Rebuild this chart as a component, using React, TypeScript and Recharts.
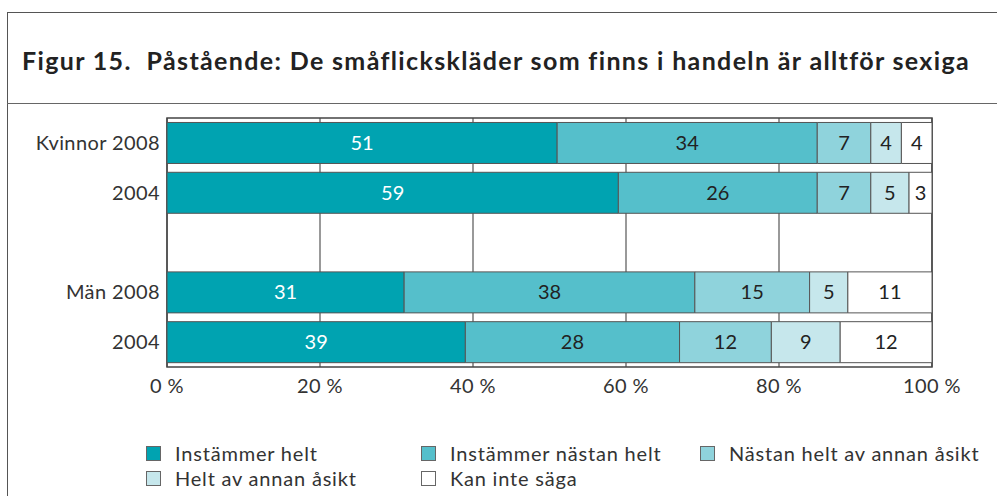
import React from 'react';
import { BarChart, Bar, XAxis, YAxis, CartesianGrid, LabelList, ReferenceArea } from 'recharts';

// rows (the empty one is the spacer between women and men)
const categories = ['Kvinnor 2008', '2004', '', 'Män 2008', '2004'];

const instammerHelt = [51, 59, null, 31, 39];
const instammerNastan = [34, 26, null, 38, 28];
const nastanAnnan = [7, 7, null, 15, 12];
const heltAnnan = [4, 5, null, 5, 9];
const kanInte = [4, 3, null, 11, 12];

const seriesNames = [
    'Instämmer helt',
    'Instämmer nästan helt',
    'Nästan helt av annan åsikt',
    'Helt av annan åsikt',
    'Kan inte säga',
];
const seriesColors = ['#00a3b1', '#55bfcb', '#8fd3dc', '#c6e7ec', '#ffffff'];
const labelColors = ['#ffffff', '#222222', '#222222', '#222222', '#222222'];

const xTicks = [0, 20, 40, 60, 80, 100];

const seriesValues = [instammerHelt, instammerNastan, nastanAnnan, heltAnnan, kanInte];

const data = categories.map((c, i) => {
    const row: any = { key: 'r' + i, label: c };
    seriesValues.forEach((vals, s) => {
        row['s' + s] = vals[i];
    });
    return row;
});

const legendCols = [146, 421, 700];
const legendRows = [453, 478];

const tickStyle = { fill: '#333', fontSize: 20, letterSpacing: 0.4 };

export default function App() {
    return (
        <div style={{ position: 'absolute', left: 0, top: 0, width: 997, height: 496, overflow: 'hidden', background: '#fff', fontFamily: 'Lato, "Open Sans", sans-serif' }}>
            <div style={{ position: 'absolute', left: 7, top: 12, width: 1100, height: 700, border: '1.5px solid #555' }} />
            <div style={{ position: 'absolute', left: 7, top: 103, width: 1100, borderTop: '1.5px solid #666' }} />
            <div style={{ position: 'absolute', left: 22, top: 14, height: 91, display: 'flex', alignItems: 'center', fontSize: 25, fontWeight: 700, letterSpacing: 1.35, color: '#222', whiteSpace: 'nowrap' }}>
                Figur 15.&nbsp; Påstående: De småflickskläder som finns i handeln är alltför sexiga
            </div>

            <div style={{ position: 'absolute', left: 0, top: 103 }}>
                <BarChart
                    width={997}
                    height={310}
                    data={data}
                    layout="vertical"
                    margin={{ top: 15, right: 65, bottom: 0, left: 0 }}
                    barCategoryGap="9%"
                >
                    <CartesianGrid horizontal={false} stroke="#555" strokeWidth={1.2} />
                    <XAxis
                        type="number"
                        domain={[0, 100]}
                        ticks={xTicks}
                        tickFormatter={(v) => `${v} %`}
                        axisLine={false}
                        tickLine={false}
                        tickSize={0}
                        tickMargin={12}
                        height={46}
                        tick={tickStyle}
                    />
                    <YAxis
                        type="category"
                        dataKey="key"
                        width={167}
                        axisLine={false}
                        tickLine={false}
                        tickSize={0}
                        tickMargin={7}
                        tickFormatter={(_v, i) => categories[i]}
                        tick={tickStyle}
                    />
                    {seriesNames.map((name, s) => (
                        <Bar
                            key={name}
                            dataKey={'s' + s}
                            name={name}
                            stackId="a"
                            fill={seriesColors[s]}
                            stroke="#555"
                            strokeWidth={1}
                            isAnimationActive={false}
                        >
                            <LabelList dataKey={'s' + s} position="center" fill={labelColors[s]} fontSize={20} />
                        </Bar>
                    ))}
                    <ReferenceArea x1={0} x2={100} fill="none" stroke="#444" strokeWidth={1.5} ifOverflow="visible" />
                </BarChart>
            </div>

            {seriesNames.map((name, i) => {
                const left = legendCols[i % 3];
                const cy = legendRows[Math.floor(i / 3)];
                return (
                    <div key={name} style={{ position: 'absolute', left, top: cy - 12, height: 24, display: 'flex', alignItems: 'center', whiteSpace: 'nowrap' }}>
                        <span style={{ width: 13, height: 13, background: seriesColors[i], border: '1.5px solid #666', display: 'inline-block' }} />
                        <span style={{ marginLeft: 14, fontSize: 20, letterSpacing: 0.8, color: '#333' }}>{name}</span>
                    </div>
                );
            })}
        </div>
    );
}
